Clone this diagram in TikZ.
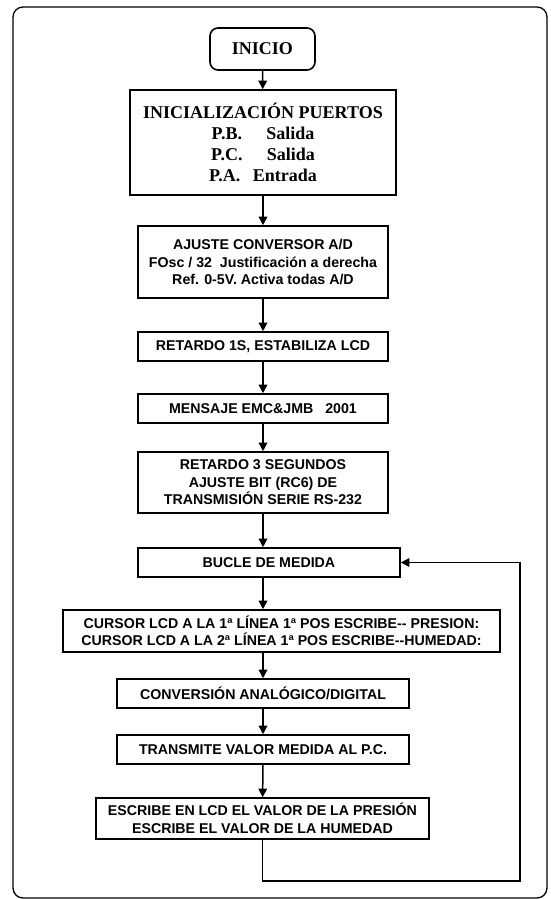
\documentclass[tikz,border=0pt]{standalone}
\usepackage{fontspec}
\setmainfont{Liberation Serif}
\setsansfont{Liberation Sans}
\usetikzlibrary{arrows.meta}

\begin{document}
\begin{tikzpicture}[x=1pt, y=-1pt,
        inicio/.style={rectangle, rounded corners=8pt, draw, line width=1.6pt, minimum width=105pt, minimum height=42pt, font=\bfseries\fontsize{18}{21}\selectfont},
        puertos/.style={rectangle, draw, line width=1.6pt, align=center, font=\bfseries\fontsize{18}{21}\selectfont},
        proc/.style={rectangle, draw, line width=1.6pt, align=center, inner sep=2pt, font=\sffamily\bfseries\fontsize{14.2}{17.5}\selectfont},
        arrow/.style={-{Triangle[length=8.5pt, width=8.5pt]}, line width=1.5pt},
        frame/.style={draw, line width=1.3pt, rounded corners=10pt}
    ]

    \useasboundingbox (0,0) rectangle (550,900);
    \draw[frame] (13,7) rectangle (547,898);

    \node[inicio] (ini) at (262.5,49) {INICIO};
    \node[puertos, minimum width=266pt, minimum height=105pt] (puertos) at (263,142.5)
        {INICIALIZACIÓN PUERTOS\\P.B.\hspace{1.35em}Salida\\P.C.\hspace{1.35em}Salida\\P.A.\hspace{0.7em}Entrada};
    \node[proc, minimum width=250pt, minimum height=72pt] (conv) at (263,262)
        {AJUSTE CONVERSOR A/D\\FOsc / 32\ \ Justificación a derecha\\Ref. 0-5V. Activa todas A/D};
    \node[proc, minimum width=250pt, minimum height=29pt] (ret1) at (263,346.5) {RETARDO 1S, ESTABILIZA LCD};
    \node[proc, minimum width=250pt, minimum height=29pt] (msg) at (263,408.5) {MENSAJE EMC\&JMB\ \ \ 2001};
    \node[proc, minimum width=250pt, minimum height=61pt] (ret3) at (263,482.5)
        {RETARDO 3 SEGUNDOS\\AJUSTE BIT (RC6) DE\\TRANSMISIÓN SERIE RS-232};
    \node[proc, minimum width=262pt, minimum height=29pt] (bucle) at (269,562.5) {BUCLE DE MEDIDA};
    \node[proc, minimum width=437pt, minimum height=42pt] (cursor) at (281.5,631)
        {CURSOR LCD A LA 1ª LÍNEA 1ª POS ESCRIBE-{}- PRESION:\\CURSOR LCD A LA 2ª LÍNEA 1ª POS ESCRIBE-{}-HUMEDAD:};
    \node[proc, minimum width=292pt, minimum height=29pt] (adc) at (263,693.5) {CONVERSIÓN ANALÓGICO/DIGITAL};
    \node[proc, minimum width=292pt, minimum height=29pt] (tx) at (263,749.5) {TRANSMITE VALOR MEDIDA AL P.C.};
    \node[proc, minimum width=333pt, minimum height=41pt] (lcd) at (262.5,818.5)
        {ESCRIBE EN LCD EL VALOR DE LA PRESIÓN\\ESCRIBE EL VALOR DE LA HUMEDAD};
    \coordinate (lazo) at (520,881);

    \draw[arrow] (ini) -- (puertos);
    \draw[arrow] (puertos) -- (conv);
    \draw[arrow] (conv) -- (ret1);
    \draw[arrow] (ret1) -- (msg);
    \draw[arrow] (msg) -- (ret3);
    \draw[arrow] (ret3.south) -- (ret3.south |- bucle.north);
    \draw[arrow] (ret3.south |- bucle.south) -- (ret3.south |- cursor.north);
    \draw[arrow] (adc.north |- cursor.south) -- (adc.north);
    \draw[arrow] (adc) -- (tx);
    \draw[arrow] (tx) -- (lcd);
    \draw[arrow] (lcd.south) |- (lazo) |- (bucle.east);

\end{tikzpicture}
\end{document}
